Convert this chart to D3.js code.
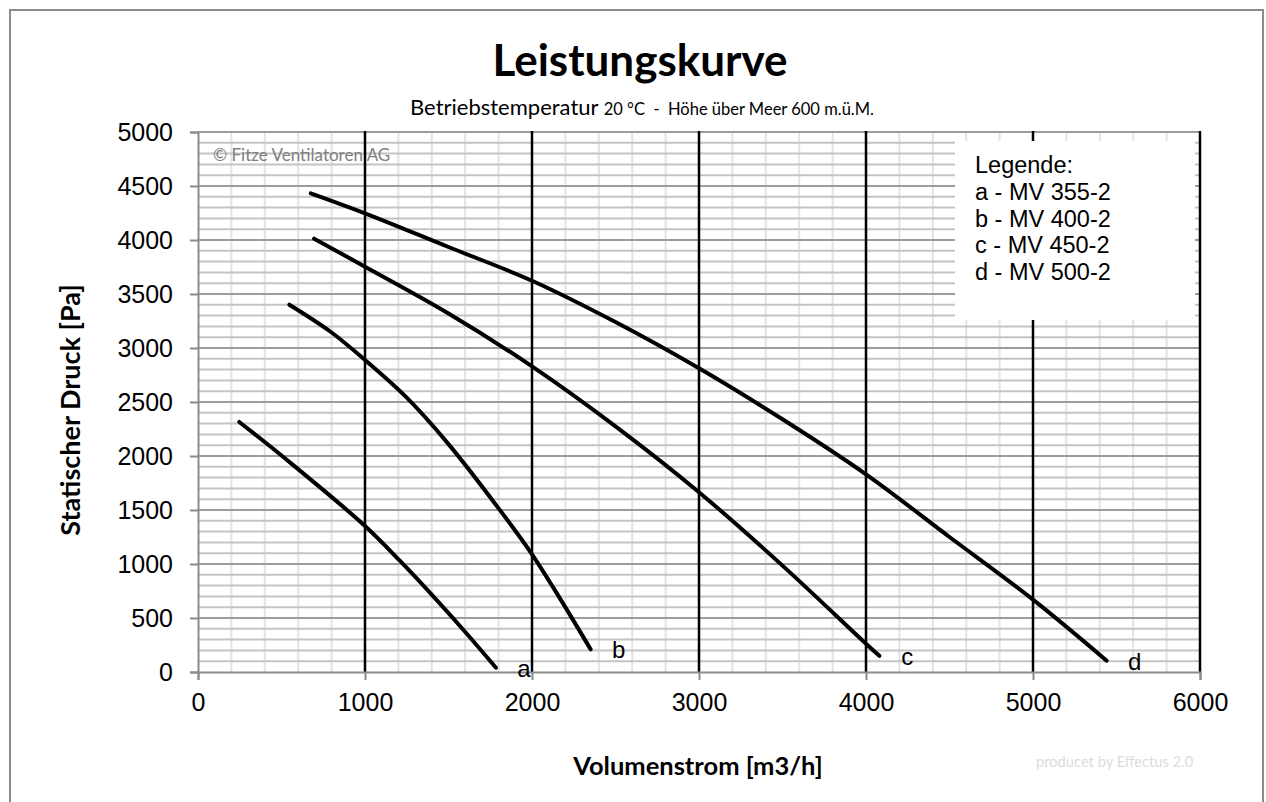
<!DOCTYPE html>
<html><head><meta charset="utf-8">
<script src="https://cdn.jsdelivr.net/npm/d3@7"></script>
<style>
body{margin:0;background:#fff;}
svg{display:block;}
text{white-space:pre;}
</style></head>
<body><svg id="chart" width="1266" height="802"></svg>
<script>
// ---- data ----
const seriesNames = ["a","b","c","d"];
const legendTitle = "Legende:";
const legendItems = ["a - MV 355-2","b - MV 400-2","c - MV 450-2","d - MV 500-2"];
const xTicks = [0,1000,2000,3000,4000,5000,6000];
const yTicks = [0,500,1000,1500,2000,2500,3000,3500,4000,4500,5000];
// volume flow [m3/h], static pressure [Pa]
const curveA = [[247,2315],[531,1965],[1000,1352],[1210,1028],[1409,700],[1599,373],[1784,40]];
const curveB = [[547,3401],[790,3155],[1000,2889],[1250,2540],[1500,2110],[1800,1515],[2000,1090],[2170,675],[2351,210]];
const curveC = [[695,4012],[1000,3753],[1500,3320],[2000,2830],[2500,2275],[3000,1665],[3500,985],[4000,262],[4080,150]];
const curveD = [[675,4432],[1000,4247],[1500,3935],[2000,3623],[2500,3240],[3000,2812],[3500,2340],[4000,1830],[4500,1250],[5000,670],[5441,105]];
const curves = [curveA,curveB,curveC,curveD];

const svg = d3.select("#chart");
const x = d3.scaleLinear().domain([0,6000]).range([198,1200]);
const y = d3.scaleLinear().domain([0,5000]).range([672,132]);

// outer frame
svg.append("rect").attr("x",10).attr("y",10).attr("width",1253).attr("height",800)
  .attr("fill","#fff").attr("stroke","#8c8c8c").attr("stroke-width",2);

const g = svg.append("g");
// vertical minor grid (every 200)
const vMinor = d3.range(200,6000,200).filter(v=>v%1000!==0);
g.selectAll(".vmin").data(vMinor).join("line")
  .attr("x1",d=>x(d)).attr("x2",d=>x(d)).attr("y1",y(5000)).attr("y2",y(0))
  .attr("stroke","#e3e3e3").attr("stroke-width",2);
// horizontal minor grid (every 100)
const hMinor = d3.range(100,5000,100).filter(v=>v%500!==0);
g.selectAll(".hmin").data(hMinor).join("line")
  .attr("x1",x(0)).attr("x2",x(6000)).attr("y1",d=>y(d)).attr("y2",d=>y(d))
  .attr("stroke","#c4c4c4").attr("stroke-width",2);
// horizontal major grid
g.selectAll(".hmaj").data(yTicks.filter(v=>v>0)).join("line")
  .attr("x1",x(0)).attr("x2",x(6000)).attr("y1",d=>y(d)).attr("y2",d=>y(d))
  .attr("stroke","#9c9c9c").attr("stroke-width",2);
// vertical major grid (black)
g.selectAll(".vmaj").data(xTicks.filter(v=>v>0)).join("line")
  .attr("x1",d=>x(d)).attr("x2",d=>x(d)).attr("y1",y(5000)-1).attr("y2",y(0))
  .attr("stroke","#000").attr("stroke-width",2.5);

// axes
const fontAx = "'Liberation Sans', Arial, sans-serif";
const fontCal = "Lato, 'Open Sans', sans-serif";
const yAxis = svg.append("g").attr("transform",`translate(${x(0)},0)`)
  .call(d3.axisLeft(y).tickValues(yTicks).tickSize(8).tickPadding(17).tickFormat(d3.format("d")));
const xAxis = svg.append("g").attr("transform",`translate(0,${y(0)})`)
  .call(d3.axisBottom(x).tickValues(xTicks).tickSize(8).tickPadding(13).tickFormat(d3.format("d")));
[yAxis,xAxis].forEach(a=>{
  a.selectAll("path").attr("stroke","#8c8c8c").attr("stroke-width",2);
  a.selectAll("line").attr("stroke","#8c8c8c").attr("stroke-width",2);
  a.selectAll("text").attr("font-family",fontAx).attr("font-size",25).attr("fill","#000");
});

// copyright
svg.append("text").attr("x",213).attr("y",161).text("© Fitze Ventilatoren AG")
  .attr("font-family",fontCal).attr("font-size",17).attr("fill","#808080");

// curves
const line = d3.line().x(d=>x(d[0])).y(d=>y(d[1])).curve(d3.curveCatmullRom.alpha(0.5));
svg.selectAll(".curve").data(curves).join("path")
  .attr("d",line).attr("fill","none").attr("stroke","#000").attr("stroke-width",4)
  .attr("stroke-linecap","round").attr("stroke-linejoin","round");

// end labels
svg.selectAll(".lbl").data(curves).join("text")
  .attr("x",d=>x(d[d.length-1][0])+28).attr("y",d=>y(d[d.length-1][1])+9)
  .attr("text-anchor","middle").attr("font-family",fontAx).attr("font-size",24)
  .text((d,i)=>seriesNames[i]);

// legend box
svg.append("rect").attr("x",955).attr("y",141).attr("width",240).attr("height",179).attr("fill","#fff");
const lg = svg.append("text").attr("font-family",fontAx).attr("font-size",23.5).attr("fill","#000");
[legendTitle,...legendItems].forEach((t,i)=>{
  lg.append("tspan").attr("x",975).attr("y",173+i*26.8).text(t);
});

// titles
svg.append("text").attr("x",640).attr("y",76).attr("text-anchor","middle")
  .attr("font-family",fontCal).attr("font-weight","bold").attr("font-size",44)
  .text("Leistungskurve");
const sub = svg.append("text").attr("x",642).attr("y",115).attr("text-anchor","middle")
  .attr("font-family",fontCal).attr("fill","#000");
sub.append("tspan").attr("font-size",22).text("Betriebstemperatur ");
sub.append("tspan").attr("font-size",16.5).text("20 °C  -  Höhe über Meer 600 m.ü.M.");

svg.append("text").attr("transform","translate(80,410) rotate(-90)").attr("text-anchor","middle")
  .attr("font-family",fontCal).attr("font-weight","bold").attr("font-size",27)
  .text("Statischer Druck [Pa]");
svg.append("text").attr("x",698).attr("y",775).attr("text-anchor","middle")
  .attr("font-family",fontCal).attr("font-weight","bold").attr("font-size",25.5)
  .text("Volumenstrom [m3/h]");
svg.append("text").attr("x",1036).attr("y",767)
  .attr("font-family",fontCal).attr("font-size",14.7).attr("fill","#dcdcdc")
  .text("producet by Effectus 2.0");
</script></body></html>
